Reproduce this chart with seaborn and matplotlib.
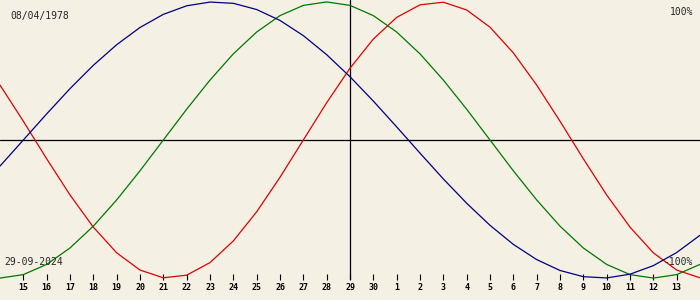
import numpy as np
import pandas as pd
import matplotlib
matplotlib.use("Agg")
import matplotlib.pyplot as plt
import seaborn as sns

# Days shown (14 Sep 2024 .. 14 Oct 2024), centred on 29 Sep
day_labels = ["14", "15", "16", "17", "18", "19", "20", "21", "22", "23", "24",
              "25", "26", "27", "28", "29", "30", "1", "2", "3", "4", "5", "6",
              "7", "8", "9", "10", "11", "12", "13", "14"]

physical = [39.8, 13.6, -13.6, -39.8, -63.1, -81.7, -94.2, -99.8, -97.9, -88.8,
            -73.1, -52.0, -27.0, 0.0, 27.0, 52.0, 73.1, 88.8, 97.9, 99.8, 94.2,
            81.7, 63.1, 39.8, 13.6, -13.6, -39.8, -63.1, -81.7, -94.2, -99.8]
emotional = [-100.0, -97.5, -90.1, -78.2, -62.4, -43.4, -22.3, 0.0, 22.3, 43.4,
             62.4, 78.2, 90.1, 97.5, 100.0, 97.5, 90.1, 78.2, 62.4, 43.4, 22.3,
             0.0, -22.3, -43.4, -62.4, -78.2, -90.1, -97.5, -100.0, -97.5, -90.1]
intellectual = [-18.9, 0.0, 18.9, 37.2, 54.1, 69.0, 81.5, 91.0, 97.2, 99.9, 99.0,
                94.5, 86.6, 75.6, 61.8, 45.8, 28.2, 9.5, -9.5, -28.2, -45.8, -61.8,
                -75.6, -86.6, -94.5, -99.0, -99.9, -97.2, -91.0, -81.5, -69.0]

birth_text = "08/04/1978"
date_text = "29-09-2024"
top_text = "100%"
bottom_text = "-100%"

BG = "#F4F0E4"
colors = {"physical": "#E00000", "emotional": "#007800", "intellectual": "#000080"}

n = len(day_labels)
offsets = np.arange(n) - n // 2

df = pd.concat([
    pd.DataFrame({"offset": offsets, "value": physical, "cycle": "physical"}),
    pd.DataFrame({"offset": offsets, "value": emotional, "cycle": "emotional"}),
    pd.DataFrame({"offset": offsets, "value": intellectual, "cycle": "intellectual"}),
])

sns.set_style("white")
plt.rcParams["font.family"] = ["DejaVu Sans Mono", "DejaVu Sans"]

fig = plt.figure(figsize=(7, 3), dpi=100, facecolor=BG)
ax = fig.add_axes([0, 20 / 300, 1, 280 / 300])
ax.set_facecolor(BG)

sns.lineplot(data=df, x="offset", y="value", hue="cycle", palette=colors,
             linewidth=0.9, legend=False, ax=ax, estimator=None, sort=True)

ax.axhline(0, color="black", linewidth=0.9, zorder=1)
ax.axvline(0, color="black", linewidth=0.9, zorder=1)

ax.set_xlim(offsets[0], offsets[-1])
ax.set_ylim(-101.4, 101.4)
for s in ax.spines.values():
    s.set_visible(False)

ax.set_xticks(offsets[1:-1])
ax.set_xticklabels(day_labels[1:-1], fontweight="bold")
ax.set_yticks([])
ax.set_xlabel("")
ax.set_ylabel("")
ax.tick_params(axis="x", direction="in", length=4.3, width=0.8, color="black",
               pad=2.5, labelsize=6, labelcolor="black", bottom=True)

fig.text(10 / 700, 1 - 16.5 / 300, birth_text, fontsize=7, ha="left", va="center")
fig.text(693 / 700, 1 - 12 / 300, top_text, fontsize=7, ha="right", va="center")
fig.text(4 / 700, 1 - 262 / 300, date_text, fontsize=7, ha="left", va="center")
fig.text(693 / 700, 1 - 262 / 300, bottom_text, fontsize=7, ha="right", va="center")

fig.savefig("out.png", dpi=100, facecolor=BG)
